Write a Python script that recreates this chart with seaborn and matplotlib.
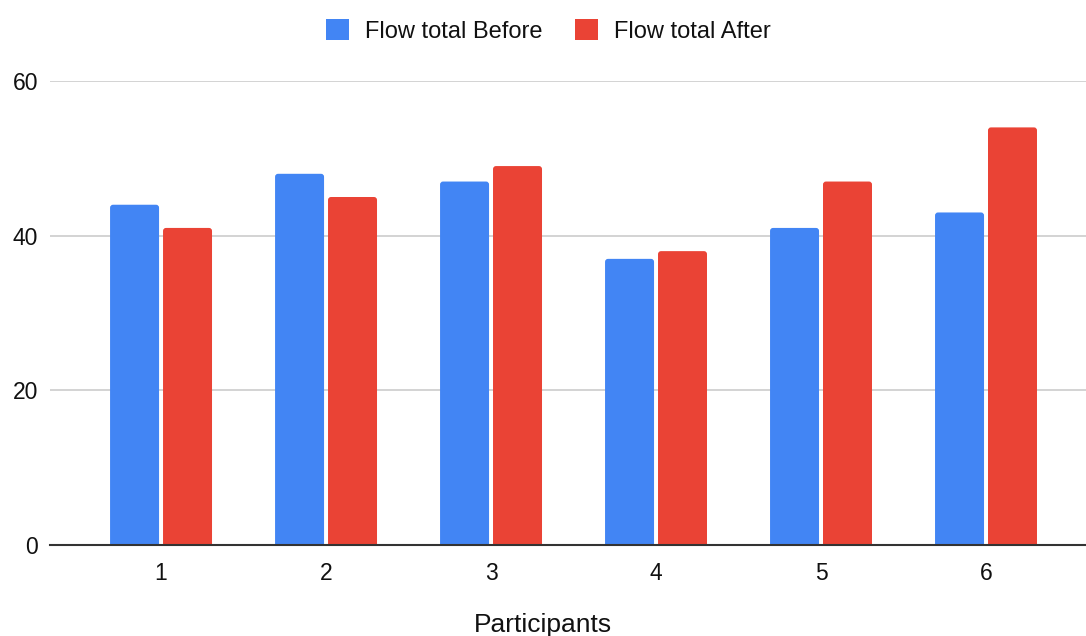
import matplotlib
matplotlib.use("Agg")
import matplotlib.pyplot as plt
from matplotlib.patches import Patch, FancyBboxPatch
import pandas as pd
import seaborn as sns

participants = ["1", "2", "3", "4", "5", "6"]
flow_before = [44, 48, 47, 37, 41, 43]
flow_after = [41, 45, 49, 38, 47, 54]
series_names = ["Flow total Before", "Flow total After"]
colors = ["#4285F4", "#EA4335"]
y_ticks = [0, 20, 40, 60]

df = pd.DataFrame({
    "Participants": participants * 2,
    "Flow": flow_before + flow_after,
    "Series": [series_names[0]] * len(participants) + [series_names[1]] * len(participants),
})

sns.set_theme(style="white")
plt.rcParams["font.family"] = ["Liberation Sans", "DejaVu Sans"]
text_color = "#111111"

fig = plt.figure(figsize=(10.86, 6.36), dpi=100)
ax = fig.add_axes([50 / 1086, 1 - 545 / 636, 1 - 50 / 1086, (545 - 81) / 636])

sns.barplot(
    data=df, x="Participants", y="Flow", hue="Series",
    palette=colors, width=0.642, gap=0.075, ax=ax,
    legend=False, errorbar=None, saturation=1, edgecolor="none",
)

ax.set_ylim(0, 60)
ax.set_xlim(-0.673, 5.606)

# Give each bar slightly rounded top corners; the lower end sits below the
# axis floor and is clipped, so only the top corners show rounding.
x_px_per_unit = 1036 / (5.606 + 0.673)
y_px_per_unit = 464 / 60
radius_px = 3.0
for bar in list(ax.patches):
    x0, w, h = bar.get_x(), bar.get_width(), bar.get_height()
    if h <= 0:
        continue
    r = radius_px / x_px_per_unit
    rounded = FancyBboxPatch(
        (x0, -1.0), w, h + 1.0,
        boxstyle=f"round,pad=0,rounding_size={r}",
        mutation_aspect=x_px_per_unit / y_px_per_unit,
        facecolor=bar.get_facecolor(), edgecolor="none",
        zorder=bar.get_zorder(), clip_on=True,
    )
    bar.remove()
    ax.add_patch(rounded)

ax.set_yticks(y_ticks)
ax.set_yticklabels([str(t) for t in y_ticks])
ax.grid(axis="y", color="#cccccc", linewidth=1.2)
ax.grid(axis="x", visible=False)
ax.set_axisbelow(True)
for side in ["top", "right", "left"]:
    ax.spines[side].set_visible(False)
ax.spines["bottom"].set_color("#333333")
ax.spines["bottom"].set_linewidth(1.5)
ax.spines["bottom"].set_zorder(5)
ax.tick_params(axis="both", length=0, labelsize=16.5, colors=text_color)
ax.tick_params(axis="x", pad=12)
ax.tick_params(axis="y", pad=8.5)
ax.set_ylabel("")
ax.set_xlabel("")

fig.text(543 / 1086, 1 - 632 / 636, "Participants", ha="center", va="baseline",
         fontsize=19, color=text_color)

handles = [Patch(facecolor=c, edgecolor="none") for c in colors]
leg = fig.legend(
    handles, series_names, loc="center", bbox_to_anchor=(0.505, 1 - 31 / 636),
    ncol=2, frameon=False, fontsize=17, handlelength=0.98, handleheight=0.98,
    handletextpad=0.68, columnspacing=1.35,
)
for t in leg.get_texts():
    t.set_color(text_color)

fig.savefig("out.png", dpi=100, facecolor="white")
